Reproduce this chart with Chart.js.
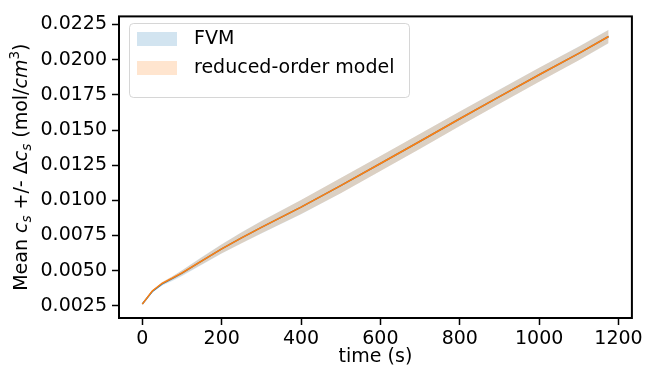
<!DOCTYPE html>
<html>
<head>
<meta charset="utf-8">
<script src="https://cdn.jsdelivr.net/npm/chart.js@4"></script>
<style>
  body { margin: 0; background: #fff; }
  #wrap { width: 646px; height: 371px; }
</style>
</head>
<body>
<div id="wrap"><canvas id="chart" width="646" height="371"></canvas></div>
<script>
// Data
const timeS = [0, 25, 50, 75, 100, 150, 200, 250, 300, 400, 500, 600, 700, 800, 900, 1000, 1100, 1175];

const fvmMean = [0.00262, 0.00352, 0.00406, 0.00443, 0.00482, 0.00569, 0.00655, 0.00733, 0.00808, 0.00952, 0.01105, 0.01262, 0.01420, 0.01580, 0.01737, 0.01893, 0.02045, 0.02165];
const fvmDelta = [0.00002, 0.00007, 0.00012, 0.00016, 0.00020, 0.00027, 0.00033, 0.00039, 0.00044, 0.00051, 0.00054, 0.00054, 0.00053, 0.00052, 0.00051, 0.00050, 0.00049, 0.00048];

const romMean = [0.00262, 0.00355, 0.00410, 0.00446, 0.00484, 0.00570, 0.00655, 0.00733, 0.00808, 0.00952, 0.01105, 0.01262, 0.01420, 0.01580, 0.01737, 0.01893, 0.02045, 0.02165];
const romDelta = [0.00002, 0.00005, 0.00009, 0.00013, 0.00016, 0.00024, 0.00031, 0.00038, 0.00043, 0.00050, 0.00054, 0.00054, 0.00053, 0.00052, 0.00050, 0.00049, 0.00048, 0.00047];

const xTicks = [0, 200, 400, 600, 800, 1000, 1200];
const yTicks = [0.0025, 0.0050, 0.0075, 0.0100, 0.0125, 0.0150, 0.0175, 0.0200, 0.0225];

const BLUE = "#1f77b4";
const ORANGE = "#ff7f0e";
const BLUE_BAND = "rgba(31,119,180,0.2)";
const ORANGE_BAND = "rgba(255,127,14,0.2)";
const FONT = "'DejaVu Sans', sans-serif";

function points(arr, sign, delta) {
    return timeS.map((t, i) => ({ x: t, y: arr[i] + sign * (delta ? delta[i] : 0) }));
}

// Draw frame, y label, x label and legend
const extras = {
    id: "extras",
    afterDraw(chart) {
        const ctx = chart.ctx;
        const a = chart.chartArea;
        ctx.save();

        // frame
        ctx.strokeStyle = "#000";
        ctx.lineWidth = 2;
        ctx.strokeRect(a.left, a.top, a.right - a.left, a.bottom - a.top);

        // x label
        ctx.fillStyle = "#000";
        ctx.font = "19px " + FONT;
        ctx.textAlign = "center";
        ctx.textBaseline = "alphabetic";
        ctx.fillText("time (s)", (a.left + a.right) / 2, 362);

        // y label with sub/superscripts
        const big = 19, small = 13.5;
        const parts = [
            { t: "Mean ", f: big + "px " + FONT, dy: 0 },
            { t: "c", f: "oblique " + big + "px " + FONT, dy: 0 },
            { t: "s", f: "oblique " + small + "px " + FONT, dy: 4 },
            { t: " +/- Δ", f: big + "px " + FONT, dy: 0 },
            { t: "c", f: "oblique " + big + "px " + FONT, dy: 0 },
            { t: "s", f: "oblique " + small + "px " + FONT, dy: 4 },
            { t: " (mol/", f: big + "px " + FONT, dy: 0 },
            { t: "cm", f: "oblique " + big + "px " + FONT, dy: 0 },
            { t: "3", f: small + "px " + FONT, dy: -8 },
            { t: ")", f: big + "px " + FONT, dy: 0 }
        ];
        let total = 0;
        parts.forEach(p => { ctx.font = p.f; p.w = ctx.measureText(p.t).width; total += p.w; });
        ctx.translate(27, (a.top + a.bottom) / 2);
        ctx.rotate(-Math.PI / 2);
        ctx.textAlign = "left";
        let x = -total / 2;
        parts.forEach(p => {
            ctx.font = p.f;
            ctx.fillText(p.t, x, p.dy);
            x += p.w;
        });
        ctx.setTransform(1, 0, 0, 1, 0, 0);

        // legend
        const lx = 129, ly = 23, lw = 280, lh = 74;
        ctx.beginPath();
        ctx.roundRect(lx + 0.5, ly + 0.5, lw, lh, 4);
        ctx.fillStyle = "rgba(255,255,255,0.8)";
        ctx.fill();
        ctx.strokeStyle = "rgba(204,204,204,0.8)";
        ctx.lineWidth = 1;
        ctx.stroke();

        const items = chart.data.datasets.filter(d => d.label);
        ctx.font = "19px " + FONT;
        ctx.textBaseline = "middle";
        items.forEach((d, i) => {
            const y = 32 + i * 29;
            ctx.fillStyle = d.backgroundColor;
            ctx.fillRect(137, y, 40, 14);
            ctx.fillStyle = "#000";
            ctx.fillText(d.label, 194, y + 7);
        });

        ctx.restore();
    }
};

new Chart(document.getElementById("chart"), {
    type: "line",
    data: {
        datasets: [
            { data: points(fvmMean, -1, fvmDelta), borderWidth: 0, pointRadius: 0, fill: false, order: 6 },
            { label: "FVM", data: points(fvmMean, 1, fvmDelta), borderWidth: 0, pointRadius: 0, fill: "-1", backgroundColor: BLUE_BAND, order: 5 },
            { data: points(fvmMean, 0), borderColor: BLUE, borderWidth: 1.5, pointRadius: 0, fill: false, order: 4 },
            { data: points(romMean, -1, romDelta), borderWidth: 0, pointRadius: 0, fill: false, order: 3 },
            { label: "reduced-order model", data: points(romMean, 1, romDelta), borderWidth: 0, pointRadius: 0, fill: "-1", backgroundColor: ORANGE_BAND, order: 2 },
            { data: points(romMean, 0), borderColor: ORANGE, borderWidth: 1.5, pointRadius: 0, fill: false, order: 1 }
        ]
    },
    options: {
        responsive: false,
        animation: false,
        devicePixelRatio: 1,
        layout: { padding: { top: 13, right: 12, left: 0, bottom: 0 } },
        plugins: {
            legend: { display: false },
            tooltip: { enabled: false }
        },
        elements: { line: { tension: 0 } },
        scales: {
            x: {
                type: "linear",
                min: -58.75,
                max: 1233.75,
                afterBuildTicks: s => { s.ticks = xTicks.map(v => ({ value: v })); },
                afterFit: s => { s.height = 53; },
                border: { display: false },
                grid: { drawOnChartArea: false, drawTicks: true, tickLength: 7, tickWidth: 1.5, tickColor: "#000" },
                ticks: { color: "#000", font: { family: FONT, size: 19 }, padding: 3, maxRotation: 0, callback: v => String(v) }
            },
            y: {
                type: "linear",
                min: 0.00163,
                max: 0.02308,
                afterBuildTicks: s => { s.ticks = yTicks.map(v => ({ value: v })); },
                afterFit: s => { s.width = 119; },
                border: { display: false },
                grid: { drawOnChartArea: false, drawTicks: true, tickLength: 7, tickWidth: 1.5, tickColor: "#000" },
                ticks: { color: "#000", font: { family: FONT, size: 19 }, padding: 5, callback: v => v.toFixed(4) }
            }
        }
    },
    plugins: [extras]
});
</script>
</body>
</html>
